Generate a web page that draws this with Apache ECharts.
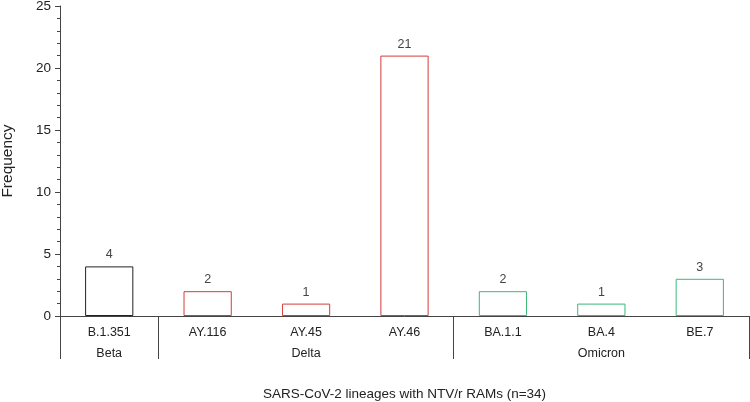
<!DOCTYPE html>
<html>
<head>
<meta charset="utf-8">
<script src="https://cdn.jsdelivr.net/npm/echarts@6/dist/echarts.min.js"></script>
<style>
  html, body { margin: 0; padding: 0; background: #fff; }
  #chart { width: 750px; height: 402px; }
</style>
</head>
<body>
<div id="chart"></div>
<script>
const lineages = ['B.1.351', 'AY.116', 'AY.45', 'AY.46', 'BA.1.1', 'BA.4', 'BE.7']
const counts = [4, 2, 1, 21, 2, 1, 3]
const variants = ['Beta', 'Delta', 'Delta', 'Delta', 'Omicron', 'Omicron', 'Omicron']
// group label shown under the middle lineage of each variant
const groupLabels = ['Beta', '', 'Delta', '', '', 'Omicron', '']
const variantColors = { Beta: '#222222', Delta: '#d43a3a', Omicron: '#3cb878' }
const font = 'Liberation Sans, Arial, sans-serif'

const chart = echarts.init(document.getElementById('chart'))
chart.setOption({
  animation: false,
  grid: { left: 60, right: 1, top: 6, bottom: 86, outerBoundsMode: 'none', containLabel: false },
  xAxis: [
    {
      type: 'category',
      data: lineages,
      axisLine: { lineStyle: { color: '#444', width: 1 } },
      axisTick: { show: false },
      axisLabel: { color: '#222', fontSize: 12.5, fontFamily: font, margin: 10 },
      name: 'SARS-CoV-2 lineages with NTV/r RAMs (n=34)',
      nameLocation: 'middle',
      nameGap: 71,
      nameTextStyle: { color: '#222', fontSize: 13.5, fontFamily: font }
    },
    {
      type: 'category',
      position: 'bottom',
      data: groupLabels,
      axisLine: { show: false },
      axisTick: {
        show: true,
        length: 43,
        lineStyle: { color: '#444' },
        interval: function (index) {
          return index === 0 || index === 1 || index === 4 || index >= 7
        }
      },
      axisLabel: { color: '#222', fontSize: 12.5, fontFamily: font, margin: 31, interval: 0 }
    }
  ],
  yAxis: [
    {
      type: 'value',
      min: 0,
      max: 25,
      interval: 5,
      splitLine: { show: false },
      axisLine: { show: true, lineStyle: { color: '#444' } },
      axisTick: { show: true, length: 5, lineStyle: { color: '#444' } },
      minorTick: { show: true, splitNumber: 5, length: 3, lineStyle: { color: '#444' } },
      axisLabel: { color: '#222', fontSize: 13.5, fontFamily: font, margin: 9 },
      name: 'Frequency',
      nameLocation: 'middle',
      nameGap: 44,
      nameTextStyle: { color: '#222', fontSize: 15.5, fontFamily: font }
    }
  ],
  series: [
    {
      type: 'bar',
      barWidth: '49%',
      data: counts.map((v, i) => ({
        value: v,
        itemStyle: {
          color: '#fff',
          borderColor: variantColors[variants[i]],
          borderWidth: 1
        }
      })),
      label: {
        show: true,
        position: 'top',
        distance: 5,
        color: '#444',
        fontSize: 12.5,
        fontFamily: font
      }
    }
  ]
})
</script>
</body>
</html>
